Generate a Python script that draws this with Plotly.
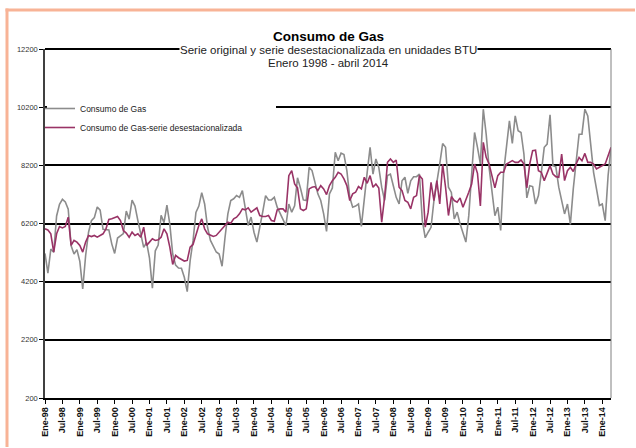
import plotly.graph_objects as go

# ---------------- data (Jan-1998 .. Apr-2014, monthly) ----------------
consumo_gas = [
    5170, 4490, 5320, 5210, 6460, 6860, 7030, 6940, 6690, 5430, 5150, 5300,
    4900, 3950, 5100, 5900, 6300, 6400, 6770, 6660, 6000, 5980, 5980, 5500,
    5170, 5700, 5780, 5850, 6630, 6350, 7000, 6800, 6300, 5780, 5380, 5550,
    5010, 3980, 5260, 5460, 6480, 6230, 6830, 6180, 5150, 4770, 4670, 4660,
    4350, 3860, 4920, 5600, 6580, 6800, 7260, 6870, 6070, 5620, 5390, 5220,
    5150, 4730, 5700, 6530, 6990, 7050, 7160, 7100, 7330, 6760, 6130, 6420,
    5900, 5560, 6020, 6590, 7160, 7010, 7010, 7100, 6760, 6530, 6360, 6130,
    6870, 6590, 6810, 7770, 7420, 7010, 6990, 8130, 8020, 7560, 7220, 6990,
    6530, 5930, 7220, 7420, 8650, 8360, 8620, 8570, 8020, 7100, 6760, 6800,
    6870, 6100, 7160, 7960, 8820, 7900, 8420, 8130, 7450, 6990, 7850, 7900,
    7500, 7100, 6870, 7670, 7790, 7240, 7670, 7810, 7810, 7900, 6300, 5710,
    5900, 6070, 6990, 7560, 8250, 8950, 8820, 7450, 7270, 6360, 6590, 6190,
    5850, 5560, 6470, 7900, 9330, 8820, 8250, 10130, 9270, 8130, 7220, 6470,
    6760, 5960, 7960, 8820, 9730, 8950, 9900, 9390, 9330, 8590, 7080, 7500,
    7470, 6870, 7160, 7960, 8820, 8930, 9940, 8190, 8150, 7450, 6990, 6530,
    6870, 6170, 7390, 8470, 9270, 9270, 10130, 9900, 8930, 7960, 7390, 6820,
    6870, 6300, 7850, 8820,
]

consumo_desest = [
    6017, 5980, 5846, 5217, 5846, 6097, 6050, 6097, 6417, 5446, 5617, 5560,
    5446, 5217, 5560, 5789, 5750, 5789, 5730, 5789, 5846, 6017, 6337, 6360,
    6394, 6440, 6303, 5960, 5870, 5730, 5903, 5789, 5846, 5730, 6074, 5446,
    5560, 5674, 5617, 5640, 5730, 6017, 5846, 5389, 4794, 5103, 5023, 4960,
    4909, 4930, 5389, 5480, 5846, 6131, 6360, 6017, 5846, 5811, 5754, 5790,
    5903, 5980, 6131, 6246, 6210, 6360, 6417, 6531, 6703, 6669, 6737, 6589,
    6669, 6737, 6474, 6440, 6440, 6474, 6303, 6280, 6669, 6703, 6703, 6589,
    7846, 8017, 7560, 7423, 6703, 6646, 6703, 7389, 7446, 7469, 7331, 7503,
    7389, 7194, 7503, 7674, 7789, 7960, 7903, 7731, 7503, 6989, 7217, 7274,
    7469, 7389, 7789, 7583, 7846, 7446, 7560, 7423, 6246, 7103, 8303, 8417,
    8303, 8383, 7446, 7331, 6989, 6931, 6703, 7103, 7160, 7846, 7731, 6074,
    6589, 7617, 6989, 7674, 6874, 8246, 7446, 6474, 7126, 6989, 6931, 7080,
    6760, 6989, 7274, 7560, 8246, 7926, 6800, 8989, 8474, 8246, 7789, 7423,
    7846, 7960, 7960, 8246, 8303, 8360, 8303, 8303, 8383, 8246, 7423, 8246,
    8703, 8720, 8017, 7960, 7674, 7960, 8189, 7903, 7811, 7789, 8589, 7674,
    8017, 8132, 7990, 8246, 8474, 8360, 8611, 8303, 8303, 8246, 8074, 8132,
    8189, 8246, 8532, 8817,
]

tick_labels = [
    "Ene-98", "Jul-98", "Ene-99", "Jul-99", "Ene-00", "Jul-00", "Ene-01", "Jul-01",
    "Ene-02", "Jul-02", "Ene-03", "Jul-03", "Ene-04", "Jul-04", "Ene-05", "Jul-05",
    "Ene-06", "Jul-06", "Ene-07", "Jul-07", "Ene-08", "Jul-08", "Ene-09", "Jul-09",
    "Ene-10", "Jul-10", "Ene-11", "Jul-11", "Ene-12", "Jul-12", "Ene-13", "Jul-13",
    "Ene-14",
]
y_ticks = [200, 2200, 4200, 6200, 8200, 10200, 12200]
y_tick_labels = ["200", "2200", "4200", "6200", "8200", "10200", "12200"]

months = list(range(len(consumo_gas)))
tick_pos = [6 * k for k in range(len(tick_labels))]

FONT = "Liberation Sans, Arial, sans-serif"

fig = go.Figure()
fig.add_trace(go.Scatter(
    x=months, y=consumo_gas, mode="lines", name="Consumo de Gas",
    line=dict(color="#8C8C8C", width=1.6),
))
fig.add_trace(go.Scatter(
    x=months, y=consumo_desest, mode="lines",
    name="Consumo de Gas-serie desestacionalizada",
    line=dict(color="#993366", width=1.6),
))

L, R, T, B = 45, 25, 49, 50
W, H = 636, 448
pw, ph = W - L - R, H - T - B


def px_x(p):
    return (p - L) / pw


def px_y(p):
    return (H - B - p) / ph


FRAME = "#F8B396"

fig.update_layout(
    width=W, height=H,
    margin=dict(l=L, r=R, t=T, b=B, pad=0, autoexpand=False),
    paper_bgcolor="white", plot_bgcolor="white",
    font=dict(family=FONT, color="#222222"),
    showlegend=True,
    legend=dict(
        x=px_x(40), y=px_y(94), xanchor="left", yanchor="top",
        bgcolor="rgba(0,0,0,0)", borderwidth=0,
        font=dict(size=8.5, family=FONT, color="#222222"),
        tracegroupgap=0,
    ),
    xaxis=dict(
        range=[0, len(consumo_gas) - 1],
        tickmode="array", tickvals=tick_pos, ticktext=tick_labels,
        tickangle=-90, ticks="outside", ticklen=4, tickcolor="black",
        tickfont=dict(size=9, family=FONT, color="#111111", weight="bold"),
        showgrid=False, zeroline=False, automargin=False,
        showline=True, linecolor="black", linewidth=1.5,
    ),
    yaxis=dict(
        range=[200, 12200],
        tickmode="array", tickvals=y_ticks, ticktext=y_tick_labels,
        ticks="outside", ticklen=4, tickcolor="black",
        tickfont=dict(size=7.5, family=FONT, color="#333333"),
        showgrid=True, gridcolor="black", gridwidth=2,
        zeroline=False, automargin=False,
        showline=True, linecolor="#404040", linewidth=1.5,
    ),
    shapes=[
        # outer salmon frame: left and top edges (kept inside the canvas)
        dict(type="line", xref="paper", yref="paper",
             x0=px_x(7), x1=px_x(7), y0=px_y(447), y1=px_y(8.5),
             line=dict(color=FRAME, width=3), layer="above"),
        dict(type="line", xref="paper", yref="paper",
             x0=px_x(5.5), x1=px_x(635), y0=px_y(10), y1=px_y(10),
             line=dict(color=FRAME, width=3), layer="above"),
        # top border line of the plot area
        dict(type="line", xref="paper", yref="paper", x0=0, x1=1, y0=1, y1=1,
             line=dict(color="black", width=2), layer="above"),
        # right border (gray)
        dict(type="line", xref="paper", yref="paper", x0=1, x1=1, y0=0, y1=1,
             line=dict(color="#808080", width=1), layer="above"),
        # white patch behind the legend hiding part of the 10200 gridline
        dict(type="rect", xref="paper", yref="paper",
             x0=px_x(47), x1=px_x(276), y0=px_y(111), y1=px_y(103),
             line=dict(width=0), fillcolor="white", layer="above"),
    ],
    annotations=[
        dict(text="<b>Consumo de Gas</b>", xref="paper", yref="paper",
             x=0.5, y=px_y(36), xanchor="center", yanchor="middle",
             showarrow=False, font=dict(size=13.5, family=FONT, color="black")),
        dict(text="Serie original y serie desestacionalizada en unidades BTU",
             xref="paper", yref="paper", x=0.5, y=px_y(49.5),
             xanchor="center", yanchor="middle", showarrow=False,
             bgcolor="white", borderpad=0,
             font=dict(size=11.5, family=FONT, color="#222222")),
        dict(text="Enero 1998 - abril 2014", xref="paper", yref="paper",
             x=0.5, y=px_y(62.5), xanchor="center", yanchor="middle",
             showarrow=False, font=dict(size=11.5, family=FONT, color="#222222")),
    ],
)

fig.write_html(
    "out.html",
    config={"displayModeBar": False},
    post_script="document.body.style.margin='0px';",
)
